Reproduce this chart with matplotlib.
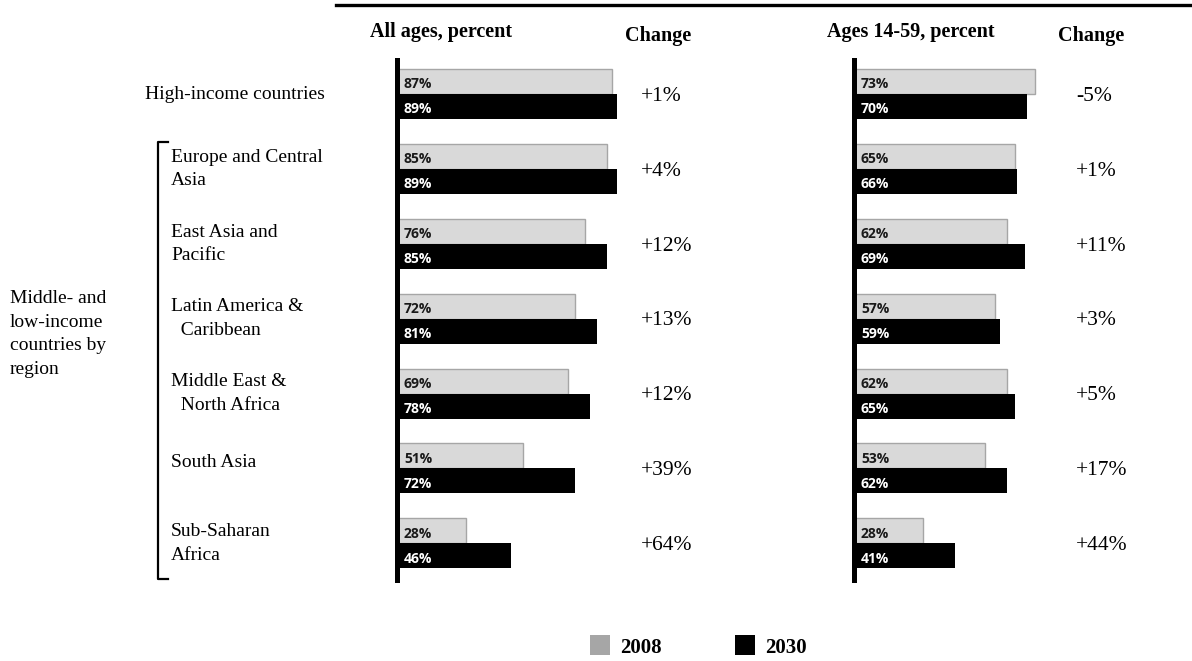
import matplotlib.pyplot as plt
import matplotlib.transforms as mtransforms
from matplotlib.lines import Line2D
from matplotlib.patches import Rectangle

rows = ["High-income countries", "Europe and Central\nAsia", "East Asia and\nPacific",
        "Latin America &\n  Caribbean", "Middle East &\n  North Africa", "South Asia",
        "Sub-Saharan\nAfrica"]

all_2008 = [87, 85, 76, 72, 69, 51, 28]
all_2030 = [89, 89, 85, 81, 78, 72, 46]
all_change = ["+1%", "+4%", "+12%", "+13%", "+12%", "+39%", "+64%"]

work_2008 = [73, 65, 62, 57, 62, 53, 28]
work_2030 = [70, 66, 69, 59, 65, 62, 41]
work_change = ["-5%", "+1%", "+11%", "+3%", "+5%", "+17%", "+44%"]

W, H = 1192, 661
SERIF = "Liberation Serif"
SANS = "Open Sans"
GRAY_FACE = "#d9d9d9"
GRAY_EDGE = "#a6a6a6"

fig = plt.figure(figsize=(W / 100, H / 100), dpi=100)


def px(x, y):
    return x / W, 1 - y / H


def make_panel(left_px, v08, v30, changes, change_x):
    ax = fig.add_axes([left_px / W, 1 - 580 / H, 247.5 / W, 520 / H])
    ax.set_xlim(0, 100)
    ax.set_ylim(6.49, -0.455)
    idx = list(range(len(v08)))
    h = 0.334
    ax.barh([i - h / 2 for i in idx], v08, height=h, color=GRAY_FACE,
            edgecolor=GRAY_EDGE, linewidth=1)
    ax.barh([i + h / 2 for i in idx], v30, height=h, color="black",
            edgecolor="black", linewidth=0)
    for i in idx:
        ax.annotate(f"{v08[i]}%", (0, i - h / 2), xytext=(5, -2),
                    textcoords="offset points", va="center", ha="left",
                    fontsize=10, fontweight="bold", family=SANS, color="#1a1a1a")
        ax.annotate(f"{v30[i]}%", (0, i + h / 2), xytext=(5, -2),
                    textcoords="offset points", va="center", ha="left",
                    fontsize=10, fontweight="bold", family=SANS, color="white")
    tr = mtransforms.blended_transform_factory(fig.transFigure, ax.transData)
    for i, c in enumerate(changes):
        ax.text(change_x / W, i + 0.03, c, transform=tr, ha="left", va="center",
                fontsize=15.5, family=SERIF)
    for s in ["top", "right", "bottom"]:
        ax.spines[s].set_visible(False)
    ax.spines["left"].set_linewidth(3.6)
    ax.set_xticks([])
    ax.set_yticks([])
    ax.patch.set_alpha(0)
    return ax, tr


ax1, tr1 = make_panel(397, all_2008, all_2030, all_change, 641)
ax2, tr2 = make_panel(854, work_2008, work_2030, work_change, 1076)

# row labels
for i, lab in enumerate(rows):
    x = 145 if i == 0 else 171
    yoff = -0.08 if i == 5 else 0
    ax1.text(x / W, i + yoff, lab, transform=tr1, ha="left", va="center",
             fontsize=14, family=SERIF, linespacing=1.5)

fig.text(10 / W, 1 - 334 / H, "Middle- and\nlow-income\ncountries by\nregion",
         ha="left", va="center", fontsize=14, family=SERIF, linespacing=1.5)

# bracket
bx = [168, 158, 158, 168]
by = [142, 142, 579, 579]
fig.add_artist(Line2D([b / W for b in bx], [1 - b / H for b in by],
                      color="black", lw=1.6, transform=fig.transFigure))

# top rule
fig.add_artist(Line2D([336 / W, 1], [1 - 5 / H, 1 - 5 / H], color="black",
                      lw=2.4, transform=fig.transFigure))

# headers
for x, t in [(370, "All ages, percent"), (625, "Change"),
             (827, "Ages 14-59, percent"), (1058, "Change")]:
    yy = 32 if x in (370, 827) else 36
    fig.text(x / W, 1 - yy / H, t, ha="left", va="center", fontsize=14.5,
             fontweight="bold", family=SERIF)

# legend
for sx, color, lab in [(590, GRAY_EDGE, "2008"), (735, "black", "2030")]:
    fig.add_artist(Rectangle(px(sx, 655), 20 / W, 20 / H, facecolor=color,
                             edgecolor="none", transform=fig.transFigure))
    fig.text((sx + 30) / W, 1 - 648 / H, lab, ha="left", va="center",
             fontsize=15, fontweight="bold", family=SERIF)

fig.savefig("out.png", dpi=100)
